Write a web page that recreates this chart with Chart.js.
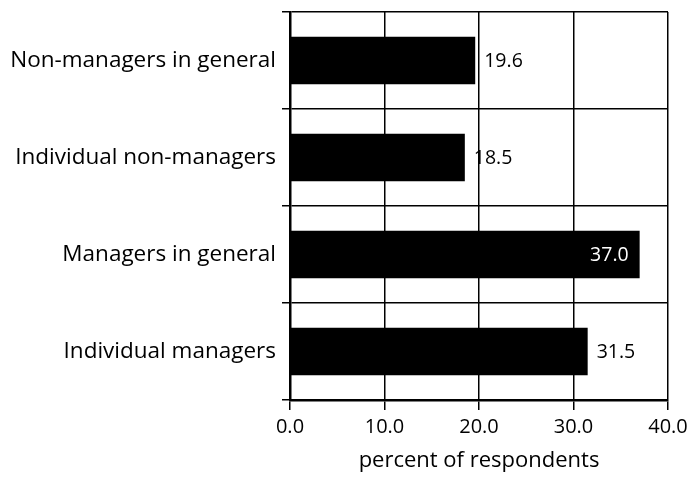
<!DOCTYPE html>
<html>
<head>
<meta charset="utf-8">
<script src="https://cdn.jsdelivr.net/npm/chart.js@4"></script>
<style>
  html, body { margin: 0; padding: 0; background: #fff; }
  #wrap { width: 690px; height: 479px; }
</style>
</head>
<body>
<div id="wrap"><canvas id="myChart" width="690" height="479"></canvas></div>
<script>
const groups = ["Non-managers in general", "Individual non-managers", "Managers in general", "Individual managers"];
const percents = [19.6, 18.5, 37.0, 31.5];
const xTicks = [0, 10, 20, 30, 40];
const FONT = "'Open Sans', sans-serif";

// value next to each bar; the long one goes inside in white
const valueLabels = {
  id: "valueLabels",
  afterDatasetsDraw(chart) {
    const ctx = chart.ctx;
    const meta = chart.getDatasetMeta(0);
    ctx.save();
    ctx.font = "19.5px " + FONT;
    ctx.textBaseline = "middle";
    meta.data.forEach((bar, i) => {
      const v = percents[i];
      const txt = v.toFixed(1);
      if (v > 35) {
        ctx.fillStyle = "#fff";
        ctx.textAlign = "right";
        ctx.fillText(txt, bar.x - 11, bar.y + 1);
      } else {
        ctx.fillStyle = "#000";
        ctx.textAlign = "left";
        ctx.fillText(txt, bar.x + 9, bar.y + 1);
      }
    });
    ctx.restore();
  }
};

let ctx = document.getElementById("myChart").getContext("2d");
let myChart = new Chart(ctx, {
  type: "bar",
  data: {
    labels: groups,
    datasets: [
      {
        data: percents,
        backgroundColor: "#000",
        borderWidth: 0,
        barPercentage: 0.49,
        categoryPercentage: 1.0,
      }
    ],
  },
  options: {
    indexAxis: "y",
    responsive: false,
    animation: false,
    layout: { padding: { top: 12, right: 22, left: 0, bottom: 0 } },
    plugins: {
      legend: { display: false },
      tooltip: { enabled: false },
    },
    scales: {
      x: {
        min: 0,
        max: 40,
        afterBuildTicks: (axis) => { axis.ticks = xTicks.map(v => ({ value: v })); },
        afterFit: (axis) => {
          axis.height = 79;
          axis.paddingLeft = 0;
          axis.paddingRight = 0;
        },
        grid: { color: "#000", lineWidth: 1.5, tickLength: 10, drawOnChartArea: true },
        border: { color: "#000", width: 2.5 },
        ticks: {
          color: "#000",
          font: { family: FONT, size: 20 },
          padding: 5,
          maxRotation: 0,
          callback: (v) => Number(v).toFixed(1),
        },
        title: {
          display: true,
          text: "percent of respondents",
          color: "#000",
          font: { family: FONT, size: 22 },
          padding: { top: 4, bottom: 5 },
        },
      },
      y: {
        afterFit: (axis) => {
          axis.width = 290;
          axis.paddingTop = 0;
          axis.paddingBottom = 0;
        },
        grid: { color: "#000", lineWidth: 1.5, tickLength: 8, offset: true },
        border: { color: "#000", width: 2.5 },
        ticks: {
          color: "#000",
          font: { family: FONT, size: 22.5 },
          padding: 6,
        },
      },
    },
  },
  plugins: [valueLabels],
});
</script>
</body>
</html>
